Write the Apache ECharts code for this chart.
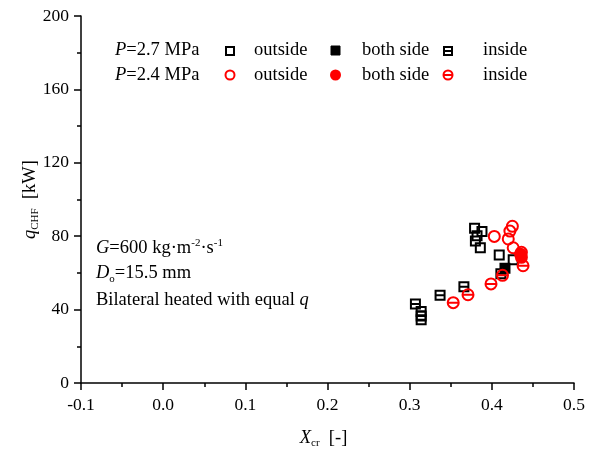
<!DOCTYPE html>
<html><head><meta charset="utf-8">
<script src="https://cdn.jsdelivr.net/npm/echarts@6/dist/echarts.min.js"></script>
<style>html,body{margin:0;padding:0;background:#fff}#c{width:598px;height:450px}</style>
</head><body><div id="c"></div>
<script>
// P=2.7 MPa (squares)
const sqOutX = [0.379, 0.388, 0.382, 0.380, 0.386, 0.409, 0.426];
const sqOutY = [84.3, 82.5, 80.3, 77.4, 73.7, 69.8, 67.2];
const sqBothX = [0.416];
const sqBothY = [62.5];
const sqInX = [0.307, 0.314, 0.314, 0.314, 0.337, 0.366, 0.411];
const sqInY = [43.0, 39.0, 36.5, 34.5, 47.8, 52.5, 59.5];
// P=2.4 MPa (circles)
const ciOutX = [0.403, 0.425, 0.422, 0.420, 0.426, 0.436];
const ciOutY = [79.9, 85.4, 82.8, 78.5, 73.7, 71.2];
const ciBothX = [0.435, 0.436];
const ciBothY = [70.2, 68.5];
const ciInX = [0.353, 0.371, 0.399, 0.413, 0.438];
const ciInY = [43.8, 48.1, 54.0, 58.7, 63.9];

const xTicks = [-0.1, 0.0, 0.1, 0.2, 0.3, 0.4, 0.5];
const yTicks = [0, 40, 80, 120, 160, 200];

const zip = (xs, ys) => xs.map((x, i) => [x, ys[i]]);
const FONT = '"Liberation Serif", "Times New Roman", serif';
const FS = 18.5;
const SQ_IN = 'path://M0,0L10,0L10,10L0,10Z M0,5L10,5';
const CI_IN = 'path://M0,5A5,5 0 1 1 10,5A5,5 0 1 1 0,5Z M0,5L10,5';

function ser(name, data, symbol, size, color, filled, z) {
  return {
    name, type: 'scatter', data, symbol, symbolSize: size, z,
    itemStyle: { color: filled ? color : 'rgba(255,255,255,0)', borderColor: color, borderWidth: 2, opacity: 1 },
    emphasis: { disabled: true }
  };
}
const ital = { fontStyle: 'italic', fontSize: FS, fontFamily: FONT };

const chart = echarts.init(document.getElementById('c'), null, { renderer: 'canvas' });
chart.setOption({
  animation: false,
  textStyle: { fontFamily: FONT },
  grid: { left: 81, right: 24, top: 16, bottom: 67, containLabel: false, outerBoundsMode: 'none' },
  xAxis: {
    type: 'value', min: xTicks[0], max: xTicks[xTicks.length - 1], interval: 0.1,
    axisLine: { onZero: false, lineStyle: { color: '#000', width: 1.5 } },
    axisTick: { inside: false, length: 7, lineStyle: { color: '#000', width: 1.5 } },
    minorTick: { show: true, splitNumber: 2, length: 4, lineStyle: { color: '#000', width: 1.5 } },
    splitLine: { show: false },
    axisLabel: { color: '#000', fontSize: 17.5, fontFamily: FONT, margin: 13, formatter: v => v.toFixed(1) },
    name: '{i|X}{s|cr}  [-]', nameLocation: 'middle', nameGap: 44, nameMoveOverlap: false,
    nameTextStyle: { color: '#000', fontSize: FS, fontFamily: FONT, padding: [0, 8, 0, 0],
      rich: { i: ital, s: { fontSize: 11, fontFamily: FONT, padding: [11, 0, 0, 0] } } }
  },
  yAxis: {
    type: 'value', min: yTicks[0], max: yTicks[yTicks.length - 1], interval: 40,
    axisLine: { show: true, onZero: false, lineStyle: { color: '#000', width: 1.5 } },
    axisTick: { show: true, inside: false, length: 7, lineStyle: { color: '#000', width: 1.5 } },
    minorTick: { show: true, splitNumber: 2, length: 4, lineStyle: { color: '#000', width: 1.5 } },
    splitLine: { show: false },
    axisLabel: { color: '#000', fontSize: 17.5, fontFamily: FONT, margin: 12 },
    name: '{i|q}{s|CHF}  [kW]', nameLocation: 'middle', nameGap: 40, nameRotate: 90, nameMoveOverlap: false,
    nameTextStyle: { color: '#000', fontSize: FS, fontFamily: FONT,
      rich: { i: ital, s: { fontSize: 11, fontFamily: FONT, padding: [11, 0, 0, 0] } } }
  },
  series: [
    ser('P=2.7 MPa outside', zip(sqOutX, sqOutY), 'rect', 9, '#000', false, 2),
    ser('P=2.7 MPa both side', zip(sqBothX, sqBothY), 'rect', 9, '#000', true, 2),
    ser('P=2.7 MPa inside', zip(sqInX, sqInY), SQ_IN, 9, '#000', false, 2),
    ser('P=2.4 MPa outside', zip(ciOutX, ciOutY), 'circle', 11, '#ff0000', false, 3),
    ser('P=2.4 MPa both side', zip(ciBothX, ciBothY), 'circle', 11, '#ff0000', true, 3),
    ser('P=2.4 MPa inside', zip(ciInX, ciInY), CI_IN, 11, '#ff0000', false, 3)
  ],
  graphic: [
    // legend row 1
    { type: 'text', left: 115, top: 41, style: { text: '{i|P}=2.7 MPa', fill: '#000', font: FS + 'px ' + FONT, rich: { i: ital } } },
    { type: 'rect', shape: { x: 226, y: 47, width: 8, height: 8 }, style: { fill: '#fff', stroke: '#000', lineWidth: 2 } },
    { type: 'text', left: 254, top: 41, style: { text: 'outside', fill: '#000', font: FS + 'px ' + FONT } },
    { type: 'rect', shape: { x: 331, y: 46, width: 9, height: 9 }, style: { fill: '#000', stroke: '#000', lineWidth: 1 } },
    { type: 'text', left: 362, top: 41, style: { text: 'both side', fill: '#000', font: FS + 'px ' + FONT } },
    { type: 'rect', shape: { x: 444, y: 47, width: 8, height: 8 }, style: { fill: '#fff', stroke: '#000', lineWidth: 2 } },
    { type: 'line', shape: { x1: 444, y1: 51, x2: 452, y2: 51 }, style: { stroke: '#000', lineWidth: 2 } },
    { type: 'text', left: 483, top: 41, style: { text: 'inside', fill: '#000', font: FS + 'px ' + FONT } },
    // legend row 2
    { type: 'text', left: 115, top: 66, style: { text: '{i|P}=2.4 MPa', fill: '#000', font: FS + 'px ' + FONT, rich: { i: ital } } },
    { type: 'circle', shape: { cx: 230, cy: 75, r: 4.5 }, style: { fill: '#fff', stroke: '#ff0000', lineWidth: 2 } },
    { type: 'text', left: 254, top: 66, style: { text: 'outside', fill: '#000', font: FS + 'px ' + FONT } },
    { type: 'circle', shape: { cx: 335.5, cy: 75, r: 5.5 }, style: { fill: '#ff0000' } },
    { type: 'text', left: 362, top: 66, style: { text: 'both side', fill: '#000', font: FS + 'px ' + FONT } },
    { type: 'circle', shape: { cx: 448, cy: 75, r: 4.5 }, style: { fill: '#fff', stroke: '#ff0000', lineWidth: 2 } },
    { type: 'line', shape: { x1: 443.5, y1: 75, x2: 452.5, y2: 75 }, style: { stroke: '#ff0000', lineWidth: 2 } },
    { type: 'text', left: 483, top: 66, style: { text: 'inside', fill: '#000', font: FS + 'px ' + FONT } },
    // annotations
    { type: 'text', left: 96, top: 238, style: { text: '{i|G}=600 kg·m{u|-2}·s{u|-1}', fill: '#000', font: FS + 'px ' + FONT,
      rich: { i: ital, u: { fontSize: 11, fontFamily: FONT, padding: [0, 0, 9, 0] } } } },
    { type: 'text', left: 96, top: 264, style: { text: '{i|D}{s|o}=15.5 mm', fill: '#000', font: FS + 'px ' + FONT,
      rich: { i: ital, s: { fontSize: 11, fontFamily: FONT, padding: [11, 0, 0, 0] } } } },
    { type: 'text', left: 96, top: 291, style: { text: 'Bilateral heated with equal {i|q}', fill: '#000', font: FS + 'px ' + FONT,
      rich: { i: ital } } }
  ]
});
</script></body></html>
